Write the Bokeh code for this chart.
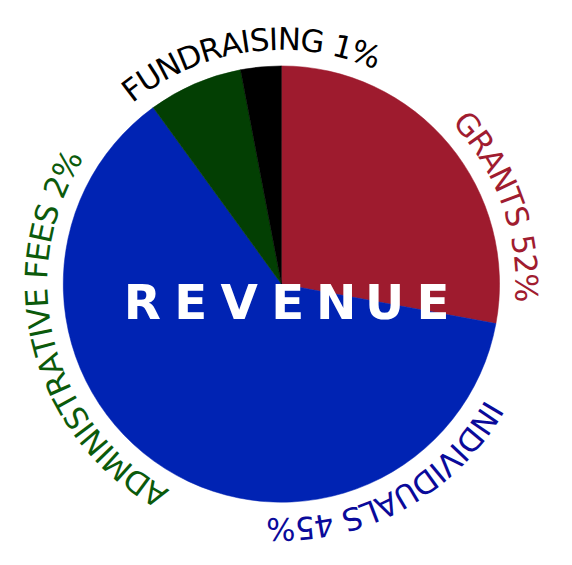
import math
from bokeh.plotting import figure
from bokeh.models import Range1d
from bokeh.core.properties import value
from bokeh.embed import file_html
from bokeh.resources import INLINE

# ---- data ----
categories = ["GRANTS", "INDIVIDUALS", "ADMINISTRATIVE FEES", "FUNDRAISING"]
slice_values = [27.9, 62.1, 7.0, 3.0]          # drawn share of each slice
label_percents = [52, 45, 2, 1]                # percentages written in the labels
slice_colors = ["#9E1B2E", "#0023B3", "#033F03", "#000000"]
label_colors = ["#A01C30", "#0A0A9A", "#0B5A0B", "#000000"]
label_center_deg = [19.5, -61.5, 194.5, 97.9]  # where each curved label sits
title = "REVENUE"

# ---- layout (design space ~572x565, drawn into 556x549) ----
DH = 565
W, H = 556, 549
x0, x1 = -2, 574
k = W / (x1 - x0)
y0 = -6
y1 = y0 + H / k
cx, cy = 289, DH - 296
R = 226
rb = 254          # baseline radius of curved text
ra = 258          # radius used for advances
fs = 32           # font size in design px

p = figure(width=W, height=H, output_backend="svg", toolbar_location=None,
           x_range=Range1d(x0, x1), y_range=Range1d(y0, y1), min_border=0)
p.axis.visible = False
p.grid.visible = False
p.outline_line_color = None
p.background_fill_color = "white"
p.border_fill_color = "white"

total = sum(slice_values)
cum = 0.0
for v, col in zip(slice_values, slice_colors):
    a0 = math.pi / 2 - 2 * math.pi * cum / total
    cum += v
    a1 = math.pi / 2 - 2 * math.pi * cum / total
    p.wedge(x=cx, y=cy, radius=R, start_angle=a0, end_angle=a1,
            direction="clock", fill_color=col, line_color=col, line_width=0.5)

# DejaVu Sans advance widths (em)
adv = {" ": 0.318, "%": 0.950, "1": 0.636, "2": 0.636, "4": 0.636, "5": 0.636,
       "A": 0.684, "D": 0.770, "E": 0.632, "F": 0.575, "G": 0.775, "I": 0.295,
       "L": 0.557, "M": 0.863, "N": 0.748, "R": 0.695, "S": 0.635, "T": 0.611,
       "U": 0.732, "V": 0.684}

for cat, pct, col, cdeg in zip(categories, label_percents, label_colors, label_center_deg):
    s = f"{cat} {pct}%"
    widths = [adv.get(ch, 0.6) * fs for ch in s]
    span = sum(widths) / ra
    start = math.radians(cdeg) + span / 2
    xs, ys, angs, chars = [], [], [], []
    acc = 0.0
    for ch, w in zip(s, widths):
        th = start - (acc + w / 2) / ra
        acc += w
        if ch == " ":
            continue
        xs.append(cx + rb * math.cos(th))
        ys.append(cy + rb * math.sin(th))
        angs.append(th - math.pi / 2)
        chars.append(ch)
    p.text(x=xs, y=ys, text=chars, angle=angs, text_color=col,
           text_font=value("DejaVu Sans"), text_font_size=f"{fs * k:.1f}px",
           text_align="center", text_baseline="alphabetic")

# centre title, letter-spaced
pitch = 50.2
tx0 = 295.5 - pitch * (len(title) - 1) / 2
p.text(x=[tx0 + i * pitch for i in range(len(title))], y=[DH - 315] * len(title),
       text=list(title), text_color="white", text_font=value("DejaVu Sans"),
       text_font_style="bold", text_font_size=f"{50 * k:.1f}px",
       text_align="center", text_baseline="alphabetic")

open("out.html", "w").write(file_html(p, INLINE))
